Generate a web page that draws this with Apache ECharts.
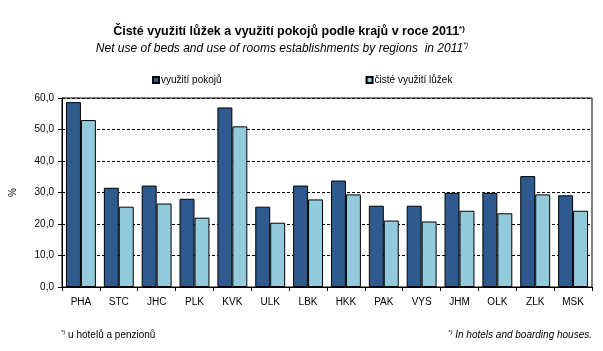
<!DOCTYPE html>
<html>
<head>
<meta charset="utf-8">
<script src="https://cdn.jsdelivr.net/npm/echarts@6/dist/echarts.min.js"></script>
<style>
  html, body { margin: 0; padding: 0; background: #fff; }
  #chart { width: 603px; height: 351px; }
</style>
</head>
<body>
<div id="chart"></div>
<script>
// kraje
const regions = ['PHA', 'STC', 'JHC', 'PLK', 'KVK', 'ULK', 'LBK', 'HKK', 'PAK', 'VYS', 'JHM', 'OLK', 'ZLK', 'MSK'];
// využití pokojů (%)
const roomUse = [58.7, 31.5, 32.2, 28.0, 57.0, 25.5, 32.2, 33.8, 25.8, 25.8, 29.9, 29.9, 35.2, 29.1];
// čisté využití lůžek (%)
const bedUse = [53.0, 25.5, 26.5, 22.0, 51.0, 20.4, 27.8, 29.4, 21.1, 20.8, 24.2, 23.4, 29.4, 24.2];
const yTicks = [0, 10, 20, 30, 40, 50, 60];

const FONT = '"Liberation Sans", Arial, sans-serif';
const chart = echarts.init(document.getElementById('chart'));

// helper for title text with superscript "*)"
function supText(t, s, weight, style) {
    return {
        fontWeight: weight,
        rich: {
            t: { fontFamily: FONT, fontSize: t, fontWeight: weight, fontStyle: style, color: '#000' },
            s: { fontFamily: FONT, fontSize: s, fontWeight: weight, fontStyle: style, color: '#000', verticalAlign: 'top', padding: [0, 0, 6, 0] }
        }
    };
}

chart.setOption({
    backgroundColor: '#fff',
    animation: false,
    textStyle: { fontFamily: FONT, color: '#000' },
    title: [
        {
            text: '{t|Čisté využití lůžek a využití pokojů podle krajů v roce 2011}{s|*)}',
            left: 284, top: 20, textAlign: 'center',
            textStyle: supText(12.5, 8, 'bold', 'normal')
        },
        {
            text: '{t|Net use of beds and use of rooms establishments by regions  in 2011}{s|*)}',
            left: 277, top: 37, textAlign: 'center',
            textStyle: supText(12, 7, 'normal', 'italic')
        },
        {
            text: '{s|*)}{t| u hotelů a penzionů}',
            left: 56, top: 324,
            textStyle: supText(10, 6, 'normal', 'normal')
        },
        {
            text: '{s|*)}{t| In hotels and boarding houses.}',
            right: 6, top: 324,
            textStyle: supText(10, 6, 'normal', 'italic')
        }
    ],
    legend: {
        top: 70, left: 147,
        itemWidth: 6, itemHeight: 6, itemGap: 144,
        icon: 'rect',
        textStyle: { fontFamily: FONT, fontSize: 10, color: '#000', padding: [0, 0, 0, -3] },
        data: ['využití pokojů', 'čisté využití lůžek']
    },
    grid: { left: 62, right: 11, top: 98, bottom: 64, show: true, borderColor: '#000', borderWidth: 1 },
    xAxis: {
        type: 'category',
        data: regions,
        axisLine: { lineStyle: { color: '#000' } },
        axisTick: { show: true, length: 4, lineStyle: { color: '#000' } },
        axisLabel: { fontFamily: FONT, fontSize: 10, color: '#000', margin: 10 }
    },
    yAxis: {
        type: 'value',
        min: yTicks[0], max: yTicks[yTicks.length - 1], interval: 10,
        name: '%', nameLocation: 'middle', nameGap: 44, nameRotate: 90,
        nameTextStyle: { fontFamily: FONT, fontSize: 10, color: '#000' },
        axisLine: { show: true, lineStyle: { color: '#000' } },
        axisTick: { show: true, length: 4, lineStyle: { color: '#000' } },
        axisLabel: { fontFamily: FONT, fontSize: 10, color: '#000', formatter: v => v.toFixed(1).replace('.', ','), margin: 8 },
        splitLine: { show: true, lineStyle: { color: '#000', type: [3, 2], width: 1 } }
    },
    series: [
        {
            name: 'využití pokojů', type: 'bar', data: roomUse,
            barGap: '0%', barCategoryGap: '21%',
            itemStyle: { color: '#2f5a8e', borderColor: '#000', borderWidth: 1 }
        },
        {
            name: 'čisté využití lůžek', type: 'bar', data: bedUse,
            barGap: '0%', barCategoryGap: '21%',
            itemStyle: { color: '#93cbdc', borderColor: '#000', borderWidth: 1 }
        }
    ]
});
</script>
</body>
</html>
